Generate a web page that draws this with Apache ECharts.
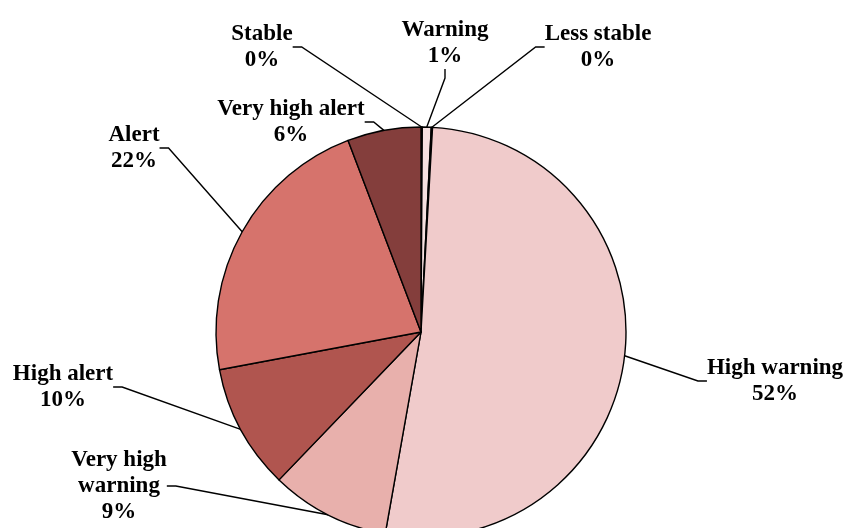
<!DOCTYPE html>
<html>
<head>
<meta charset="utf-8">
<script src="https://cdn.jsdelivr.net/npm/echarts@6/dist/echarts.min.js"></script>
<style>html,body{margin:0;padding:0;background:#fff;}#chart{width:847px;height:528px;}</style>
</head>
<body>
<div id="chart"></div>
<script>
const titleText = 'Group of people in each category';
const categories = ['Stable', 'Warning', 'Less stable', 'High warning', 'Very high\nwarning', 'High alert', 'Alert', 'Very high alert'];
const values = [0.1, 0.7, 0.1, 52.0, 9.4, 9.9, 22.2, 5.8];
const colors = ['#F9EAEA', '#F6E0E0', '#F8E5E5', '#F0CBCB', '#E8B0AC', '#B0554F', '#D6736C', '#843E3C'];

// label block centres (layout only)
const labelPos = [[262, 47], [445, 43], [598, 47], [775, 381], [119, 486], [63, 387], [134, 148], [291, 122]];

const chart = echarts.init(document.getElementById('chart'));
chart.setOption({
  animation: false,
  backgroundColor: '#ffffff',
  title: {
    text: titleText,
    left: 427,
    top: -43,
    textAlign: 'center',
    textStyle: { fontFamily: 'Liberation Serif', fontWeight: 'bold', fontSize: 38, lineHeight: 38, color: '#000' }
  },
  series: [{
    type: 'pie',
    center: [421, 332],
    radius: 205,
    startAngle: 90,
    clockwise: true,
    percentPrecision: 2,
    data: categories.map((c, i) => ({ name: c, value: values[i], itemStyle: { color: colors[i] } })),
    itemStyle: { borderColor: '#000', borderWidth: 1.4 },
    label: {
      show: true,
      position: 'outside',
      formatter: p => p.name + '\n' + Math.round(p.percent) + '%',
      fontFamily: 'Liberation Serif',
      fontWeight: 'bold',
      fontSize: 23,
      lineHeight: 26,
      color: '#000',
      align: 'center'
    },
    labelLine: { show: true, length: 10, length2: 9, lineStyle: { color: '#000', width: 1.4 } },
    labelLayout: function (params) {
      const pos = labelPos[params.dataIndex];
      return { x: pos[0], y: pos[1], align: 'center', verticalAlign: 'middle' };
    },
    emphasis: { disabled: true }
  }]
});
</script>
</body>
</html>
